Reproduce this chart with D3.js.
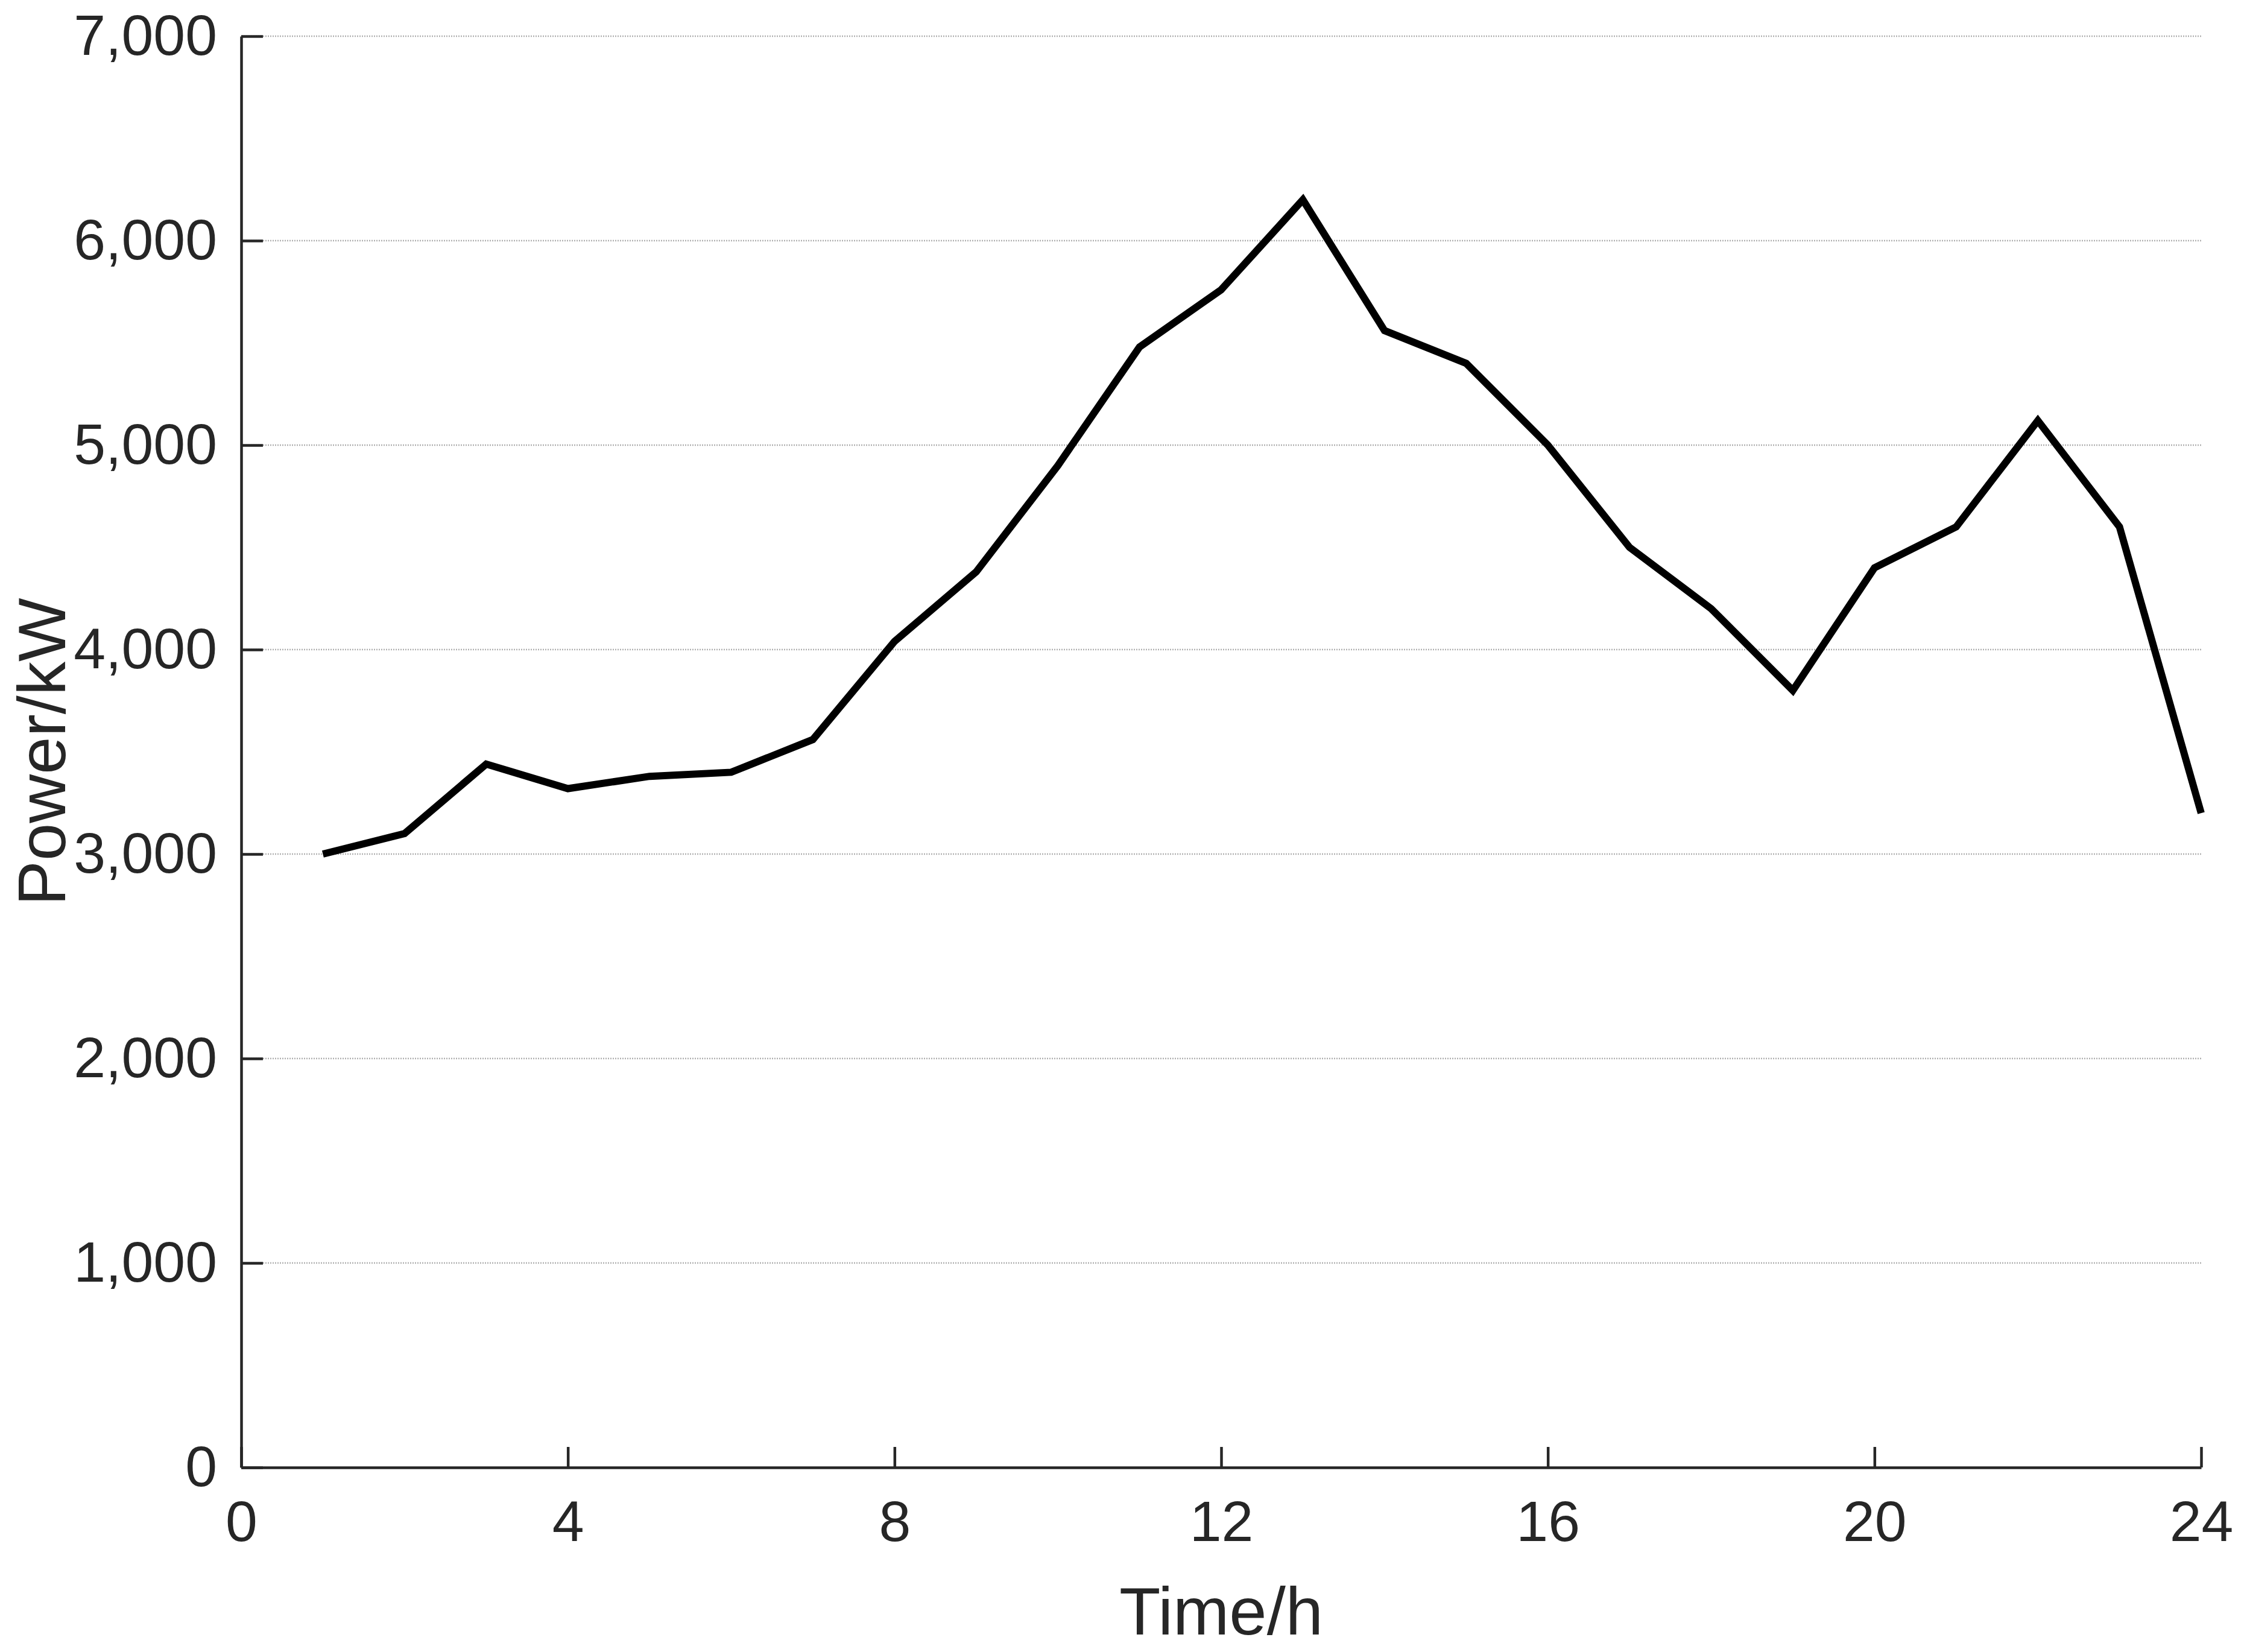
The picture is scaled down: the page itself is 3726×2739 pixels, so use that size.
<!DOCTYPE html><html><head><meta charset="utf-8"><script src="https://cdn.jsdelivr.net/npm/d3@7"></script>
<style>body{margin:0;background:#fff}svg{display:block}text{font-family:Arial,"Liberation Sans",sans-serif;fill:#262626}</style></head><body><script>
const hours=[1,2,3,4,5,6,7,8,9,10,11,12,13,14,15,16,17,18,19,20,21,22,23,24];
const power=[3000,3100,3440,3320,3380,3400,3560,4040,4380,4900,5480,5760,6200,5560,5400,5000,4500,4200,3800,4400,4600,5120,4600,3200];
const xTicks=[0,4,8,12,16,20,24];
const yTicks=[0,1000,2000,3000,4000,5000,6000,7000];
const W=3726,H=2739,L=400,R=3650,T=60,B=2433;
const svg=d3.select("body").append("svg").attr("width",W).attr("height",H);
const x=d3.scaleLinear().domain([0,24]).range([L,R]);
const y=d3.scaleLinear().domain([0,7000]).range([B,T]);
svg.append("g").selectAll("line").data(yTicks.slice(1)).join("line")
 .attr("x1",L).attr("x2",R).attr("y1",d=>y(d)).attr("y2",d=>y(d))
 .attr("stroke","#b0b0b0").attr("stroke-width",2.5).attr("stroke-dasharray","2,2");
const xa=svg.append("g").attr("transform",`translate(0,${B})`).call(d3.axisBottom(x).tickValues(xTicks).tickSizeInner(-34).tickSizeOuter(0).tickPadding(55));
const ya=svg.append("g").attr("transform",`translate(${L},0)`).call(d3.axisLeft(y).tickValues(yTicks).tickSizeInner(-36).tickSizeOuter(0).tickPadding(40));
[xa,ya].forEach(a=>{a.selectAll("path,line").attr("stroke","#262626").attr("stroke-width",4.5);
 a.selectAll("text").attr("font-size",95).attr("fill","#262626").attr("font-family","Arial,'Liberation Sans',sans-serif");});
xa.selectAll("text").attr("dy","0.71em");
svg.append("path").datum(hours.map((h,i)=>[h,power[i]]))
 .attr("d",d3.line().x(d=>x(d[0])).y(d=>y(d[1])))
 .attr("fill","none").attr("stroke","#000").attr("stroke-width",12).attr("stroke-linejoin","miter");
svg.append("text").attr("x",(L+R)/2).attr("y",2710).attr("text-anchor","middle").attr("font-size",112).text("Time/h");
svg.append("text").attr("transform",`translate(108,${(T+B)/2}) rotate(-90)`).attr("text-anchor","middle").attr("font-size",112).text("Power/kW");
</script></body></html>
